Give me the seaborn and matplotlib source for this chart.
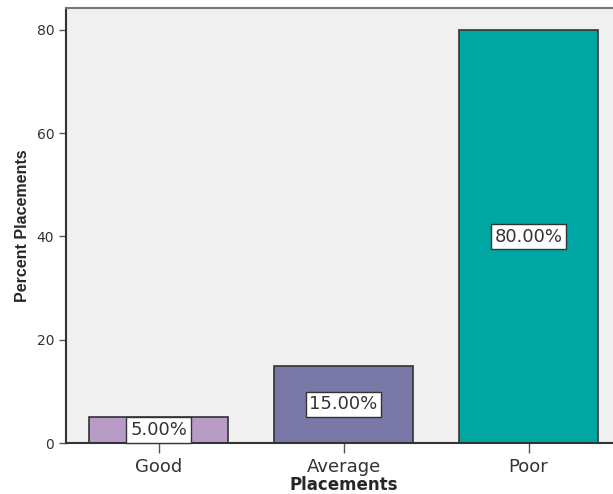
import matplotlib
matplotlib.use("Agg")
import matplotlib.pyplot as plt
import seaborn as sns
import pandas as pd

# chart data
categories = ["Good", "Average", "Poor"]
percents = [5.0, 15.0, 80.0]
bar_colors = ["#B99BC8", "#7A78A6", "#00A6A2"]

df = pd.DataFrame({"Placements": categories, "Percent": percents})

sns.set_style("white")
plt.rcParams["font.family"] = ["DejaVu Sans"]

fig = plt.figure(figsize=(6.13, 4.94), dpi=100)
ax = fig.add_axes([66 / 613, 1 - 443 / 494, (621 - 66) / 613, (443 - 8) / 494])

sns.barplot(data=df, x="Placements", y="Percent", hue="Placements",
            palette=bar_colors, width=0.75, dodge=False, legend=False,
            edgecolor="#333333", linewidth=1.2, saturation=1, ax=ax)

ax.set_facecolor("#F0F0F0")
ax.set_xlim(-0.5, 2.5)
ax.set_ylim(0, (443 - 8) / ((443 - 30) / 80))
ax.set_yticks([0, 20, 40, 60, 80])

for i, v in enumerate(percents):
    ax.text(i, v / 2, f"{v:.2f}%", ha="center", va="center", fontsize=13,
            color="#333333",
            bbox=dict(boxstyle="square,pad=0.2", facecolor="white",
                      edgecolor="#333333", linewidth=1))

for side in ["left", "bottom"]:
    ax.spines[side].set_color("#333333")
    ax.spines[side].set_linewidth(1.5)
ax.spines["top"].set_color("#777777")
ax.spines["top"].set_linewidth(1.5)
ax.spines["right"].set_visible(False)

ax.tick_params(axis="y", length=5, width=1, color="#555555", labelsize=10,
               labelcolor="#333333", left=True)
ax.tick_params(axis="x", length=7, width=1, color="#555555", labelsize=13,
               labelcolor="#333333", bottom=True)

ax.set_xlabel("Placements", fontsize=12, fontweight="bold", labelpad=0)
ax.set_ylabel("Percent Placements", fontsize=11.5, fontweight="bold",
              fontfamily=["Liberation Sans", "DejaVu Sans"], labelpad=5)

fig.savefig("out.png", dpi=100)
